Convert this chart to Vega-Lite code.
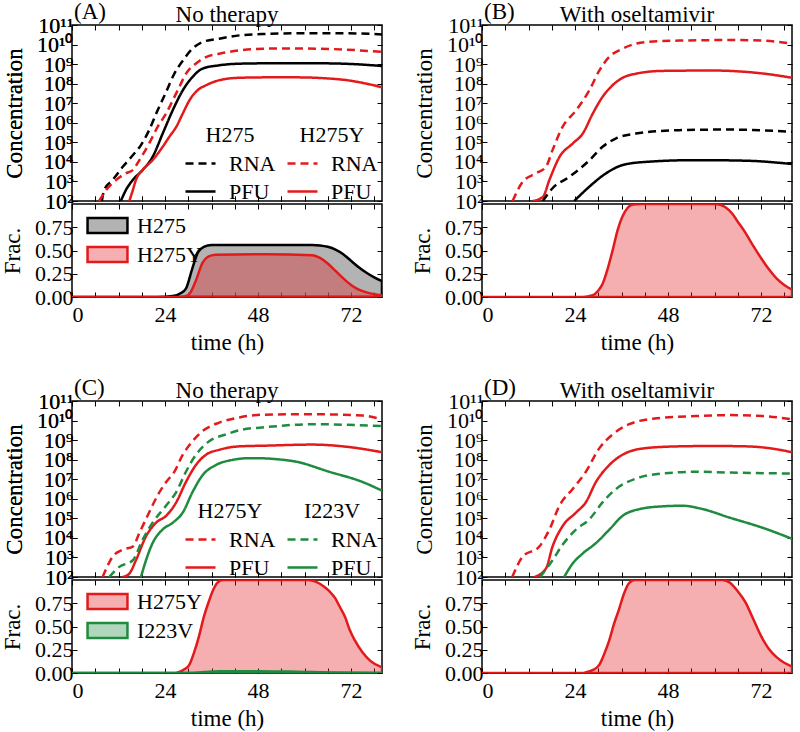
{
"$schema":"https://vega.github.io/schema/vega-lite/v6.json",
"padding":{"left":0,"right":5,"top":0,"bottom":2},
"config":{
 "font":"Liberation Serif",
 "view":{"stroke":"black","strokeWidth":1.5},
 "axis":{"domain":false,"grid":false,"tickColor":"black","tickSize":-5,"tickWidth":1,"labelFont":"Liberation Serif","labelFontSize":22,"labelColor":"black","labelPadding":4,"labelOverlap":false,"titleFont":"Liberation Serif","titleFontSize":23,"titleFontWeight":"normal","titleColor":"black","titlePadding":10},
 "title":{"font":"Liberation Serif","fontSize":23,"fontWeight":"normal","color":"black","offset":-26,"frame":"group"},
 "legend":{"titleFont":"Liberation Serif","labelFont":"Liberation Serif","titleFontSize":22,"labelFontSize":22,"titleFontWeight":"normal","titleColor":"black","labelColor":"black","padding":0,"rowPadding":-2,"labelOffset":12,"symbolStrokeWidth":2.5,"titlePadding":0}
},
"datasets":{
"conc":[
{"p":"A","s":"H275","k":"RNA","t":7.7,"v":1e2},{"p":"A","s":"H275","k":"RNA","t":8.3,"v":3.6e2},{"p":"A","s":"H275","k":"RNA","t":10.5,"v":1.2e3},{"p":"A","s":"H275","k":"RNA","t":13.1,"v":5.6e3},{"p":"A","s":"H275","k":"RNA","t":15.7,"v":2.2e4},{"p":"A","s":"H275","k":"RNA","t":17.8,"v":7.2e4},{"p":"A","s":"H275","k":"RNA","t":19.9,"v":4.2e5},{"p":"A","s":"H275","k":"RNA","t":22.1,"v":4.4e6},{"p":"A","s":"H275","k":"RNA","t":24.3,"v":3.8e7},{"p":"A","s":"H275","k":"RNA","t":26.4,"v":3.2e8},{"p":"A","s":"H275","k":"RNA","t":28.6,"v":1.5e9},{"p":"A","s":"H275","k":"RNA","t":31.1,"v":6.2e9},{"p":"A","s":"H275","k":"RNA","t":33.7,"v":1.35e10},{"p":"A","s":"H275","k":"RNA","t":38,"v":2.0e10},{"p":"A","s":"H275","k":"RNA","t":43.2,"v":2.95e10},{"p":"A","s":"H275","k":"RNA","t":50,"v":3.5e10},{"p":"A","s":"H275","k":"RNA","t":60,"v":3.8e10},{"p":"A","s":"H275","k":"RNA","t":70,"v":3.8e10},{"p":"A","s":"H275","k":"RNA","t":80,"v":3.3e10},
{"p":"A","s":"H275Y","k":"RNA","t":7.0,"v":1e2},{"p":"A","s":"H275Y","k":"RNA","t":8.8,"v":3.6e2},{"p":"A","s":"H275Y","k":"RNA","t":11.4,"v":1.2e3},{"p":"A","s":"H275Y","k":"RNA","t":13.9,"v":2.6e3},{"p":"A","s":"H275Y","k":"RNA","t":15.7,"v":3.8e3},{"p":"A","s":"H275Y","k":"RNA","t":17.4,"v":1.23e4},{"p":"A","s":"H275Y","k":"RNA","t":19.9,"v":8.7e4},{"p":"A","s":"H275Y","k":"RNA","t":22.1,"v":6.2e5},{"p":"A","s":"H275Y","k":"RNA","t":24.3,"v":3.0e6},{"p":"A","s":"H275Y","k":"RNA","t":26.0,"v":1.4e7},{"p":"A","s":"H275Y","k":"RNA","t":27.7,"v":6.8e7},{"p":"A","s":"H275Y","k":"RNA","t":29.4,"v":3.2e8},{"p":"A","s":"H275Y","k":"RNA","t":32.0,"v":1.07e9},{"p":"A","s":"H275Y","k":"RNA","t":34.6,"v":2.3e9},{"p":"A","s":"H275Y","k":"RNA","t":38,"v":3.4e9},{"p":"A","s":"H275Y","k":"RNA","t":43.2,"v":5.0e9},{"p":"A","s":"H275Y","k":"RNA","t":50,"v":6.2e9},{"p":"A","s":"H275Y","k":"RNA","t":60,"v":6.2e9},{"p":"A","s":"H275Y","k":"RNA","t":70,"v":5.6e9},{"p":"A","s":"H275Y","k":"RNA","t":80,"v":4.2e9},
{"p":"A","s":"H275","k":"PFU","t":12.6,"v":1e2},{"p":"A","s":"H275","k":"PFU","t":13.9,"v":3.6e2},{"p":"A","s":"H275","k":"PFU","t":15.7,"v":1.2e3},{"p":"A","s":"H275","k":"PFU","t":18.2,"v":3.8e3},{"p":"A","s":"H275","k":"PFU","t":20.8,"v":1.8e4},{"p":"A","s":"H275","k":"PFU","t":23.4,"v":2.8e5},{"p":"A","s":"H275","k":"PFU","t":26,"v":4.4e6},{"p":"A","s":"H275","k":"PFU","t":28.6,"v":4.6e7},{"p":"A","s":"H275","k":"PFU","t":31.1,"v":2.2e8},{"p":"A","s":"H275","k":"PFU","t":33.7,"v":5.9e8},{"p":"A","s":"H275","k":"PFU","t":38,"v":8.7e8},{"p":"A","s":"H275","k":"PFU","t":43.2,"v":1.05e9},{"p":"A","s":"H275","k":"PFU","t":50,"v":1.1e9},{"p":"A","s":"H275","k":"PFU","t":60,"v":1.12e9},{"p":"A","s":"H275","k":"PFU","t":70,"v":1.05e9},{"p":"A","s":"H275","k":"PFU","t":80,"v":8.0e8},
{"p":"A","s":"H275Y","k":"PFU","t":14.8,"v":1e2},{"p":"A","s":"H275Y","k":"PFU","t":15.7,"v":3.6e2},{"p":"A","s":"H275Y","k":"PFU","t":16.5,"v":1.2e3},{"p":"A","s":"H275Y","k":"PFU","t":18.2,"v":3.8e3},{"p":"A","s":"H275Y","k":"PFU","t":20.8,"v":1.23e4},{"p":"A","s":"H275Y","k":"PFU","t":23.4,"v":5.9e4},{"p":"A","s":"H275Y","k":"PFU","t":25.1,"v":1.9e5},{"p":"A","s":"H275Y","k":"PFU","t":26.9,"v":6.2e5},{"p":"A","s":"H275Y","k":"PFU","t":28.6,"v":3.0e6},{"p":"A","s":"H275Y","k":"PFU","t":30.3,"v":1.4e7},{"p":"A","s":"H275Y","k":"PFU","t":32.4,"v":4.6e7},{"p":"A","s":"H275Y","k":"PFU","t":34.6,"v":8.3e7},{"p":"A","s":"H275Y","k":"PFU","t":38,"v":1.5e8},{"p":"A","s":"H275Y","k":"PFU","t":43.2,"v":2.0e8},{"p":"A","s":"H275Y","k":"PFU","t":50,"v":2.1e8},{"p":"A","s":"H275Y","k":"PFU","t":58,"v":2.1e8},{"p":"A","s":"H275Y","k":"PFU","t":65,"v":1.9e8},{"p":"A","s":"H275Y","k":"PFU","t":71,"v":1.5e8},{"p":"A","s":"H275Y","k":"PFU","t":76,"v":1.0e8},{"p":"A","s":"H275Y","k":"PFU","t":80,"v":6.5e7},
{"p":"B","s":"H275Y","k":"RNA","t":7.9,"v":1e2},{"p":"B","s":"H275Y","k":"RNA","t":10.5,"v":9.5e2},{"p":"B","s":"H275Y","k":"RNA","t":13.9,"v":2.6e3},{"p":"B","s":"H275Y","k":"RNA","t":16.5,"v":5.6e3},{"p":"B","s":"H275Y","k":"RNA","t":18.2,"v":4.0e4},{"p":"B","s":"H275Y","k":"RNA","t":20.8,"v":6.2e5},{"p":"B","s":"H275Y","k":"RNA","t":24.3,"v":4.4e6},{"p":"B","s":"H275Y","k":"RNA","t":27.7,"v":4.6e7},{"p":"B","s":"H275Y","k":"RNA","t":30.3,"v":4.8e8},{"p":"B","s":"H275Y","k":"RNA","t":32.8,"v":2.3e9},{"p":"B","s":"H275Y","k":"RNA","t":36.3,"v":6.2e9},{"p":"B","s":"H275Y","k":"RNA","t":42.3,"v":1.35e10},{"p":"B","s":"H275Y","k":"RNA","t":50.9,"v":1.6e10},{"p":"B","s":"H275Y","k":"RNA","t":63.8,"v":1.7e10},{"p":"B","s":"H275Y","k":"RNA","t":72.4,"v":1.6e10},{"p":"B","s":"H275Y","k":"RNA","t":80,"v":1.1e10},
{"p":"B","s":"H275Y","k":"PFU","t":13.1,"v":1e2},{"p":"B","s":"H275Y","k":"PFU","t":15.7,"v":1.6e2},{"p":"B","s":"H275Y","k":"PFU","t":17.4,"v":1.2e3},{"p":"B","s":"H275Y","k":"PFU","t":20.0,"v":1.8e4},{"p":"B","s":"H275Y","k":"PFU","t":23.4,"v":8.7e4},{"p":"B","s":"H275Y","k":"PFU","t":26.0,"v":2.8e5},{"p":"B","s":"H275Y","k":"PFU","t":28.6,"v":3.0e6},{"p":"B","s":"H275Y","k":"PFU","t":31.1,"v":2.1e7},{"p":"B","s":"H275Y","k":"PFU","t":33.7,"v":8.3e7},{"p":"B","s":"H275Y","k":"PFU","t":38,"v":2.7e8},{"p":"B","s":"H275Y","k":"PFU","t":46.6,"v":4.5e8},{"p":"B","s":"H275Y","k":"PFU","t":59.5,"v":4.7e8},{"p":"B","s":"H275Y","k":"PFU","t":68.1,"v":4.0e8},{"p":"B","s":"H275Y","k":"PFU","t":74.2,"v":3.0e8},{"p":"B","s":"H275Y","k":"PFU","t":80,"v":2.0e8},
{"p":"B","s":"H275","k":"RNA","t":15.7,"v":1e2},{"p":"B","s":"H275","k":"RNA","t":18.2,"v":4.5e2},{"p":"B","s":"H275","k":"RNA","t":22.5,"v":1.7e3},{"p":"B","s":"H275","k":"RNA","t":27.7,"v":1.2e4},{"p":"B","s":"H275","k":"RNA","t":31.1,"v":5.9e4},{"p":"B","s":"H275","k":"RNA","t":34.6,"v":1.6e5},{"p":"B","s":"H275","k":"RNA","t":39.7,"v":2.8e5},{"p":"B","s":"H275","k":"RNA","t":50.9,"v":4.2e5},{"p":"B","s":"H275","k":"RNA","t":63.8,"v":4.5e5},{"p":"B","s":"H275","k":"RNA","t":80,"v":3.5e5},
{"p":"B","s":"H275","k":"PFU","t":23.8,"v":1e2},{"p":"B","s":"H275","k":"PFU","t":27.7,"v":5.4e2},{"p":"B","s":"H275","k":"PFU","t":32.0,"v":2.6e3},{"p":"B","s":"H275","k":"PFU","t":36.3,"v":6.9e3},{"p":"B","s":"H275","k":"PFU","t":42.3,"v":1.0e4},{"p":"B","s":"H275","k":"PFU","t":55.2,"v":1.23e4},{"p":"B","s":"H275","k":"PFU","t":68.1,"v":1.15e4},{"p":"B","s":"H275","k":"PFU","t":80,"v":7.8e3},
{"p":"C","s":"H275Y","k":"RNA","t":7.9,"v":1e2},{"p":"C","s":"H275Y","k":"RNA","t":10.5,"v":1.1e3},{"p":"C","s":"H275Y","k":"RNA","t":13.1,"v":2.5e3},{"p":"C","s":"H275Y","k":"RNA","t":15.7,"v":3.6e3},{"p":"C","s":"H275Y","k":"RNA","t":17.4,"v":1.8e4},{"p":"C","s":"H275Y","k":"RNA","t":19.9,"v":2.0e5},{"p":"C","s":"H275Y","k":"RNA","t":22.1,"v":1.5e6},{"p":"C","s":"H275Y","k":"RNA","t":24.3,"v":7.2e6},{"p":"C","s":"H275Y","k":"RNA","t":26.4,"v":2.4e7},{"p":"C","s":"H275Y","k":"RNA","t":28.6,"v":1.8e8},{"p":"C","s":"H275Y","k":"RNA","t":31.1,"v":8.7e8},{"p":"C","s":"H275Y","k":"RNA","t":33.7,"v":2.9e9},{"p":"C","s":"H275Y","k":"RNA","t":38,"v":7.9e9},{"p":"C","s":"H275Y","k":"RNA","t":43.2,"v":1.45e10},{"p":"C","s":"H275Y","k":"RNA","t":49.2,"v":2.0e10},{"p":"C","s":"H275Y","k":"RNA","t":62.1,"v":2.1e10},{"p":"C","s":"H275Y","k":"RNA","t":75,"v":1.8e10},{"p":"C","s":"H275Y","k":"RNA","t":80,"v":1.15e10},
{"p":"C","s":"I223V","k":"RNA","t":9.6,"v":1e2},{"p":"C","s":"I223V","k":"RNA","t":12.2,"v":3.3e2},{"p":"C","s":"I223V","k":"RNA","t":15.7,"v":7.2e2},{"p":"C","s":"I223V","k":"RNA","t":18.2,"v":7.9e3},{"p":"C","s":"I223V","k":"RNA","t":20.8,"v":6.0e4},{"p":"C","s":"I223V","k":"RNA","t":24.3,"v":4.5e5},{"p":"C","s":"I223V","k":"RNA","t":26.9,"v":2.2e6},{"p":"C","s":"I223V","k":"RNA","t":29.4,"v":2.4e7},{"p":"C","s":"I223V","k":"RNA","t":32.0,"v":1.8e8},{"p":"C","s":"I223V","k":"RNA","t":35.4,"v":8.7e8},{"p":"C","s":"I223V","k":"RNA","t":39.7,"v":1.95e9},{"p":"C","s":"I223V","k":"RNA","t":44.1,"v":3.5e9},{"p":"C","s":"I223V","k":"RNA","t":49,"v":4.4e9},{"p":"C","s":"I223V","k":"RNA","t":62,"v":6.5e9},{"p":"C","s":"I223V","k":"RNA","t":80,"v":5.2e9},
{"p":"C","s":"H275Y","k":"PFU","t":13.1,"v":1e2},{"p":"C","s":"H275Y","k":"PFU","t":14.8,"v":1.5e2},{"p":"C","s":"H275Y","k":"PFU","t":16.5,"v":7.2e2},{"p":"C","s":"H275Y","k":"PFU","t":19.1,"v":1.2e4},{"p":"C","s":"H275Y","k":"PFU","t":21.7,"v":6.0e4},{"p":"C","s":"H275Y","k":"PFU","t":24.3,"v":1.35e5},{"p":"C","s":"H275Y","k":"PFU","t":26.9,"v":6.6e5},{"p":"C","s":"H275Y","k":"PFU","t":29.4,"v":7.2e6},{"p":"C","s":"H275Y","k":"PFU","t":32.0,"v":5.4e7},{"p":"C","s":"H275Y","k":"PFU","t":34.6,"v":1.8e8},{"p":"C","s":"H275Y","k":"PFU","t":38,"v":3.2e8},{"p":"C","s":"H275Y","k":"PFU","t":43.2,"v":4.8e8},{"p":"C","s":"H275Y","k":"PFU","t":50,"v":5.2e8},{"p":"C","s":"H275Y","k":"PFU","t":62,"v":5.9e8},{"p":"C","s":"H275Y","k":"PFU","t":72,"v":4.3e8},{"p":"C","s":"H275Y","k":"PFU","t":80,"v":2.4e8},
{"p":"C","s":"I223V","k":"PFU","t":17.8,"v":1e2},{"p":"C","s":"I223V","k":"PFU","t":19.1,"v":7.2e2},{"p":"C","s":"I223V","k":"PFU","t":20.8,"v":5.4e3},{"p":"C","s":"I223V","k":"PFU","t":23.4,"v":2.7e4},{"p":"C","s":"I223V","k":"PFU","t":26.0,"v":6.0e4},{"p":"C","s":"I223V","k":"PFU","t":28.6,"v":2.0e5},{"p":"C","s":"I223V","k":"PFU","t":31.1,"v":2.2e6},{"p":"C","s":"I223V","k":"PFU","t":33.7,"v":1.6e7},{"p":"C","s":"I223V","k":"PFU","t":37.2,"v":5.4e7},{"p":"C","s":"I223V","k":"PFU","t":41.5,"v":9.8e7},{"p":"C","s":"I223V","k":"PFU","t":44.9,"v":1.17e8},{"p":"C","s":"I223V","k":"PFU","t":49.2,"v":1.17e8},{"p":"C","s":"I223V","k":"PFU","t":53,"v":1.05e8},{"p":"C","s":"I223V","k":"PFU","t":57.8,"v":7.9e7},{"p":"C","s":"I223V","k":"PFU","t":66.4,"v":2.4e7},{"p":"C","s":"I223V","k":"PFU","t":75,"v":7.2e6},{"p":"C","s":"I223V","k":"PFU","t":80,"v":2.6e6},
{"p":"D","s":"H275Y","k":"RNA","t":7.8,"v":1e2},{"p":"D","s":"H275Y","k":"RNA","t":10.5,"v":1.1e3},{"p":"D","s":"H275Y","k":"RNA","t":14.8,"v":3.6e3},{"p":"D","s":"H275Y","k":"RNA","t":17.4,"v":2.7e4},{"p":"D","s":"H275Y","k":"RNA","t":20.0,"v":4.5e5},{"p":"D","s":"H275Y","k":"RNA","t":23.4,"v":3.2e6},{"p":"D","s":"H275Y","k":"RNA","t":26.8,"v":2.4e7},{"p":"D","s":"H275Y","k":"RNA","t":30.3,"v":3.9e8},{"p":"D","s":"H275Y","k":"RNA","t":33.7,"v":1.95e9},{"p":"D","s":"H275Y","k":"RNA","t":38,"v":6.5e9},{"p":"D","s":"H275Y","k":"RNA","t":44.9,"v":1.3e10},{"p":"D","s":"H275Y","k":"RNA","t":55.2,"v":1.7e10},{"p":"D","s":"H275Y","k":"RNA","t":63.8,"v":1.9e10},{"p":"D","s":"H275Y","k":"RNA","t":72.4,"v":1.7e10},{"p":"D","s":"H275Y","k":"RNA","t":80,"v":1.15e10},
{"p":"D","s":"H275Y","k":"PFU","t":13.5,"v":1e2},{"p":"D","s":"H275Y","k":"PFU","t":16.5,"v":2.7e2},{"p":"D","s":"H275Y","k":"PFU","t":18.2,"v":3.6e3},{"p":"D","s":"H275Y","k":"PFU","t":20.8,"v":4.0e4},{"p":"D","s":"H275Y","k":"PFU","t":24.3,"v":2.0e5},{"p":"D","s":"H275Y","k":"PFU","t":26.8,"v":6.6e5},{"p":"D","s":"H275Y","k":"PFU","t":29.4,"v":7.2e6},{"p":"D","s":"H275Y","k":"PFU","t":32.9,"v":5.4e7},{"p":"D","s":"H275Y","k":"PFU","t":36.3,"v":1.8e8},{"p":"D","s":"H275Y","k":"PFU","t":42.3,"v":3.9e8},{"p":"D","s":"H275Y","k":"PFU","t":50.9,"v":4.8e8},{"p":"D","s":"H275Y","k":"PFU","t":59.5,"v":5.0e8},{"p":"D","s":"H275Y","k":"PFU","t":68.1,"v":4.8e8},{"p":"D","s":"H275Y","k":"PFU","t":74,"v":3.9e8},{"p":"D","s":"H275Y","k":"PFU","t":80,"v":2.4e8},
{"p":"D","s":"I223V","k":"RNA","t":15.0,"v":1e2},{"p":"D","s":"I223V","k":"RNA","t":18.2,"v":7.2e2},{"p":"D","s":"I223V","k":"RNA","t":20.8,"v":4.5e3},{"p":"D","s":"I223V","k":"RNA","t":24.3,"v":2.7e4},{"p":"D","s":"I223V","k":"RNA","t":27.7,"v":8.9e4},{"p":"D","s":"I223V","k":"RNA","t":31.1,"v":6.6e5},{"p":"D","s":"I223V","k":"RNA","t":34.6,"v":3.2e6},{"p":"D","s":"I223V","k":"RNA","t":39.7,"v":1.07e7},{"p":"D","s":"I223V","k":"RNA","t":46.6,"v":1.95e7},{"p":"D","s":"I223V","k":"RNA","t":55.2,"v":2.4e7},{"p":"D","s":"I223V","k":"RNA","t":63.8,"v":2.2e7},{"p":"D","s":"I223V","k":"RNA","t":80,"v":1.95e7},
{"p":"D","s":"I223V","k":"PFU","t":21.2,"v":1e2},{"p":"D","s":"I223V","k":"PFU","t":23.4,"v":4.9e2},{"p":"D","s":"I223V","k":"PFU","t":26.0,"v":1.6e3},{"p":"D","s":"I223V","k":"PFU","t":29.4,"v":5.4e3},{"p":"D","s":"I223V","k":"PFU","t":32.9,"v":2.7e4},{"p":"D","s":"I223V","k":"PFU","t":36.3,"v":1.35e5},{"p":"D","s":"I223V","k":"PFU","t":40.6,"v":2.95e5},{"p":"D","s":"I223V","k":"PFU","t":46.6,"v":4.1e5},{"p":"D","s":"I223V","k":"PFU","t":51.8,"v":4.4e5},{"p":"D","s":"I223V","k":"PFU","t":57.0,"v":2.95e5},{"p":"D","s":"I223V","k":"PFU","t":63.8,"v":1.1e5},{"p":"D","s":"I223V","k":"PFU","t":72.4,"v":3.3e4},{"p":"D","s":"I223V","k":"PFU","t":80,"v":9.0e3}
],
"frac":[
{"p":"A","s":"H275","t":0,"f":0},{"p":"A","s":"H275","t":22,"f":0},{"p":"A","s":"H275","t":26,"f":0.01},{"p":"A","s":"H275","t":28,"f":0.04},{"p":"A","s":"H275","t":29.4,"f":0.09},{"p":"A","s":"H275","t":31,"f":0.3},{"p":"A","s":"H275","t":32.5,"f":0.48},{"p":"A","s":"H275","t":34,"f":0.54},{"p":"A","s":"H275","t":36,"f":0.56},{"p":"A","s":"H275","t":50,"f":0.56},{"p":"A","s":"H275","t":62,"f":0.56},{"p":"A","s":"H275","t":64,"f":0.555},{"p":"A","s":"H275","t":66,"f":0.54},{"p":"A","s":"H275","t":68,"f":0.51},{"p":"A","s":"H275","t":70,"f":0.46},{"p":"A","s":"H275","t":72,"f":0.39},{"p":"A","s":"H275","t":74,"f":0.32},{"p":"A","s":"H275","t":76,"f":0.26},{"p":"A","s":"H275","t":78,"f":0.21},{"p":"A","s":"H275","t":80,"f":0.17},
{"p":"A","s":"H275Y","t":0,"f":0},{"p":"A","s":"H275Y","t":28,"f":0},{"p":"A","s":"H275Y","t":30,"f":0.02},{"p":"A","s":"H275Y","t":32,"f":0.18},{"p":"A","s":"H275Y","t":33.7,"f":0.37},{"p":"A","s":"H275Y","t":35,"f":0.43},{"p":"A","s":"H275Y","t":37,"f":0.455},{"p":"A","s":"H275Y","t":50,"f":0.46},{"p":"A","s":"H275Y","t":62,"f":0.45},{"p":"A","s":"H275Y","t":64,"f":0.42},{"p":"A","s":"H275Y","t":66,"f":0.36},{"p":"A","s":"H275Y","t":68,"f":0.28},{"p":"A","s":"H275Y","t":70,"f":0.2},{"p":"A","s":"H275Y","t":72,"f":0.13},{"p":"A","s":"H275Y","t":74,"f":0.08},{"p":"A","s":"H275Y","t":76,"f":0.05},{"p":"A","s":"H275Y","t":78,"f":0.03},{"p":"A","s":"H275Y","t":80,"f":0.02},
{"p":"B","s":"H275Y","t":0,"f":0},{"p":"B","s":"H275Y","t":26,"f":0},{"p":"B","s":"H275Y","t":28.6,"f":0.02},{"p":"B","s":"H275Y","t":30,"f":0.07},{"p":"B","s":"H275Y","t":31.1,"f":0.14},{"p":"B","s":"H275Y","t":32.4,"f":0.3},{"p":"B","s":"H275Y","t":33.7,"f":0.5},{"p":"B","s":"H275Y","t":35,"f":0.72},{"p":"B","s":"H275Y","t":36.3,"f":0.87},{"p":"B","s":"H275Y","t":37.6,"f":0.96},{"p":"B","s":"H275Y","t":39,"f":0.995},{"p":"B","s":"H275Y","t":41,"f":1.0},{"p":"B","s":"H275Y","t":60,"f":1.0},{"p":"B","s":"H275Y","t":61.5,"f":0.99},{"p":"B","s":"H275Y","t":63,"f":0.96},{"p":"B","s":"H275Y","t":64.5,"f":0.9},{"p":"B","s":"H275Y","t":66,"f":0.81},{"p":"B","s":"H275Y","t":68,"f":0.69},{"p":"B","s":"H275Y","t":70,"f":0.55},{"p":"B","s":"H275Y","t":72,"f":0.42},{"p":"B","s":"H275Y","t":74,"f":0.3},{"p":"B","s":"H275Y","t":76,"f":0.2},{"p":"B","s":"H275Y","t":78,"f":0.13},{"p":"B","s":"H275Y","t":80,"f":0.08},
{"p":"C","s":"H275Y","t":0,"f":0},{"p":"C","s":"H275Y","t":26,"f":0},{"p":"C","s":"H275Y","t":27.5,"f":0.01},{"p":"C","s":"H275Y","t":29,"f":0.04},{"p":"C","s":"H275Y","t":30.3,"f":0.09},{"p":"C","s":"H275Y","t":31.5,"f":0.22},{"p":"C","s":"H275Y","t":32.8,"f":0.4},{"p":"C","s":"H275Y","t":34,"f":0.6},{"p":"C","s":"H275Y","t":35.4,"f":0.78},{"p":"C","s":"H275Y","t":36.5,"f":0.9},{"p":"C","s":"H275Y","t":37.5,"f":0.97},{"p":"C","s":"H275Y","t":39,"f":1.0},{"p":"C","s":"H275Y","t":61,"f":1.0},{"p":"C","s":"H275Y","t":63,"f":0.98},{"p":"C","s":"H275Y","t":65,"f":0.93},{"p":"C","s":"H275Y","t":66.4,"f":0.88},{"p":"C","s":"H275Y","t":68,"f":0.8},{"p":"C","s":"H275Y","t":69,"f":0.72},{"p":"C","s":"H275Y","t":70.5,"f":0.6},{"p":"C","s":"H275Y","t":71.6,"f":0.47},{"p":"C","s":"H275Y","t":73,"f":0.35},{"p":"C","s":"H275Y","t":75,"f":0.22},{"p":"C","s":"H275Y","t":77,"f":0.13},{"p":"C","s":"H275Y","t":80,"f":0.06},
{"p":"C","s":"I223V","t":0,"f":0},{"p":"C","s":"I223V","t":30,"f":0},{"p":"C","s":"I223V","t":34,"f":0.01},{"p":"C","s":"I223V","t":38,"f":0.02},{"p":"C","s":"I223V","t":48,"f":0.02},{"p":"C","s":"I223V","t":56,"f":0.015},{"p":"C","s":"I223V","t":62,"f":0.01},{"p":"C","s":"I223V","t":68,"f":0.005},{"p":"C","s":"I223V","t":80,"f":0},
{"p":"D","s":"H275Y","t":0,"f":0},{"p":"D","s":"H275Y","t":26,"f":0},{"p":"D","s":"H275Y","t":27,"f":0.01},{"p":"D","s":"H275Y","t":28.5,"f":0.03},{"p":"D","s":"H275Y","t":30.3,"f":0.09},{"p":"D","s":"H275Y","t":31.5,"f":0.2},{"p":"D","s":"H275Y","t":32.9,"f":0.36},{"p":"D","s":"H275Y","t":34,"f":0.52},{"p":"D","s":"H275Y","t":35.4,"f":0.69},{"p":"D","s":"H275Y","t":36.6,"f":0.85},{"p":"D","s":"H275Y","t":38,"f":0.97},{"p":"D","s":"H275Y","t":39.5,"f":1.0},{"p":"D","s":"H275Y","t":62,"f":1.0},{"p":"D","s":"H275Y","t":64,"f":0.97},{"p":"D","s":"H275Y","t":66,"f":0.88},{"p":"D","s":"H275Y","t":68,"f":0.76},{"p":"D","s":"H275Y","t":70,"f":0.58},{"p":"D","s":"H275Y","t":72,"f":0.4},{"p":"D","s":"H275Y","t":74,"f":0.26},{"p":"D","s":"H275Y","t":76,"f":0.17},{"p":"D","s":"H275Y","t":78,"f":0.11},{"p":"D","s":"H275Y","t":80,"f":0.07}
]
},
"bounds":"flush",
"columns":2,
"spacing":{"row":3,"column":100},
"resolve":{"scale":{"x":"independent","y":"independent","color":"independent","fill":"independent","stroke":"independent","strokeDash":"independent"},"legend":{"color":"independent","fill":"independent","stroke":"independent","strokeDash":"independent"}},
"concat":[
  {"width":310,"height":176,"title":{"text":"No therapy"},
   "layer":[
    {"data":{"name":"conc"},"transform":[{"filter":"datum.p==='A' && datum.s==='H275'"}],
     "mark":{"type":"line","strokeWidth":2.5,"interpolate":"monotone","clip":true},
     "encoding":{
      "x":{"field":"t","type":"quantitative","scale":{"domain":[0,80],"nice":false},"axis":{"orient":"bottom","values":[0,6,12,18,24,30,36,42,48,54,60,66,72,78],"labels":false,"title":null}},
      "y":{"field":"v","type":"quantitative","scale":{"type":"log","domain":[100,1e11],"nice":false},"axis":{"orient":"left","values":[1e2,1e3,1e4,1e5,1e6,1e7,1e8,1e9,1e10,1e11],"labelExpr":"'10' + ['⁰','¹','²','³','⁴','⁵','⁶','⁷','⁸','⁹','¹⁰','¹¹'][round(log(datum.value)/LN10)]","title":"Concentration"}},
      "color":{"field":"k","type":"nominal","scale":{"domain":["RNA","PFU"],"range":["#000000","#000000"]},"legend":{"title":"H275","orient":"none","legendX":112,"legendY":100,"titleAnchor":"middle","symbolType":"stroke","symbolSize":900}},
      "strokeDash":{"field":"k","type":"nominal","scale":{"domain":["RNA","PFU"],"range":[[8,5],[1,0]]},"legend":{"title":"H275","orient":"none","legendX":112,"legendY":100,"titleAnchor":"middle","symbolType":"stroke","symbolSize":900}}
     }},
    {"data":{"name":"conc"},"transform":[{"filter":"datum.p==='A' && datum.s==='H275Y'"}],
     "mark":{"type":"line","strokeWidth":2.5,"interpolate":"monotone","clip":true},
     "encoding":{
      "x":{"field":"t","type":"quantitative","scale":{"domain":[0,80],"nice":false},"axis":{"orient":"bottom","values":[0,6,12,18,24,30,36,42,48,54,60,66,72,78],"labels":false,"title":null}},
      "y":{"field":"v","type":"quantitative","scale":{"type":"log","domain":[100,1e11],"nice":false},"axis":{"orient":"left","values":[1e2,1e3,1e4,1e5,1e6,1e7,1e8,1e9,1e10,1e11],"labelExpr":"'10' + ['⁰','¹','²','³','⁴','⁵','⁶','⁷','⁸','⁹','¹⁰','¹¹'][round(log(datum.value)/LN10)]","title":"Concentration"}},
      "color":{"field":"k","type":"nominal","scale":{"domain":["RNA","PFU"],"range":["#e31a1c","#e31a1c"]},"legend":{"title":"H275Y","orient":"none","legendX":214,"legendY":100,"titleAnchor":"middle","symbolType":"stroke","symbolSize":900}},
      "strokeDash":{"field":"k","type":"nominal","scale":{"domain":["RNA","PFU"],"range":[[8,5],[1,0]]},"legend":{"title":"H275Y","orient":"none","legendX":214,"legendY":100,"titleAnchor":"middle","symbolType":"stroke","symbolSize":900}}
     }},
    {"data":{"values":[{"lab":"(A)"}]},
     "mark":{"type":"text","align":"left","baseline":"alphabetic","dx":2,"dy":-6,"fontSize":23,"font":"Liberation Serif"},
     "encoding":{
      "x":{"datum":0,"type":"quantitative","axis":{"orient":"top","values":[0,6,12,18,24,30,36,42,48,54,60,66,72,78],"labels":false,"title":null}},
      "y":{"datum":1e11,"type":"quantitative","axis":{"orient":"right","values":[1e2,1e3,1e4,1e5,1e6,1e7,1e8,1e9,1e10,1e11],"labels":false,"title":null}},
      "text":{"field":"lab"}}}
   ],
   "resolve":{"scale":{"color":"independent","strokeDash":"independent"},"legend":{"color":"independent","strokeDash":"independent"}}
  },
  {"width":310,"height":176,"title":{"text":"With oseltamivir"},
   "layer":[
    {"data":{"name":"conc"},"transform":[{"filter":"datum.p==='B'"}],
     "mark":{"type":"line","strokeWidth":2.5,"interpolate":"monotone","clip":true},
     "encoding":{
      "x":{"field":"t","type":"quantitative","scale":{"domain":[0,80],"nice":false},"axis":{"orient":"bottom","values":[0,6,12,18,24,30,36,42,48,54,60,66,72,78],"labels":false,"title":null}},
      "y":{"field":"v","type":"quantitative","scale":{"type":"log","domain":[100,1e11],"nice":false},"axis":{"orient":"left","values":[1e2,1e3,1e4,1e5,1e6,1e7,1e8,1e9,1e10,1e11],"labelExpr":"'10' + ['⁰','¹','²','³','⁴','⁵','⁶','⁷','⁸','⁹','¹⁰','¹¹'][round(log(datum.value)/LN10)]","title":"Concentration"}},
      "color":{"field":"s","type":"nominal","scale":{"domain":["H275","H275Y"],"range":["#000000","#e31a1c"]},"legend":null},
      "strokeDash":{"field":"k","type":"nominal","scale":{"domain":["RNA","PFU"],"range":[[8,5],[1,0]]},"legend":null}
     }},
    {"data":{"values":[{"lab":"(B)"}]},
     "mark":{"type":"text","align":"left","baseline":"alphabetic","dx":2,"dy":-6,"fontSize":23,"font":"Liberation Serif"},
     "encoding":{
      "x":{"datum":0,"type":"quantitative","axis":{"orient":"top","values":[0,6,12,18,24,30,36,42,48,54,60,66,72,78],"labels":false,"title":null}},
      "y":{"datum":1e11,"type":"quantitative","axis":{"orient":"right","values":[1e2,1e3,1e4,1e5,1e6,1e7,1e8,1e9,1e10,1e11],"labels":false,"title":null}},
      "text":{"field":"lab"}}}
   ]
  },
  {"width":310,"height":93,
   "layer":[
    {"data":{"name":"frac"},"transform":[{"filter":"datum.p==='A'"}],
     "mark":{"type":"area","strokeWidth":2.5,"interpolate":"monotone","clip":true},
     "encoding":{
      "x":{"field":"t","type":"quantitative","scale":{"domain":[0,80],"nice":false},"axis":{"orient":"bottom","values":[0,6,12,18,24,30,36,42,48,54,60,66,72,78],"labelExpr":"datum.value % 24 === 0 ? datum.label : ''","title":"time (h)","labelPadding":12,"titlePadding":6}},
      "y":{"field":"f","type":"quantitative","stack":null,"scale":{"domain":[0,1],"nice":false},"axis":{"orient":"left","values":[0,0.25,0.5,0.75],"format":".2f","title":"Frac."}},
      "fill":{"field":"s","type":"nominal","scale":{"domain":["H275","H275Y"],"range":["rgba(128,128,128,0.6)","rgba(227,26,28,0.35)"]},"legend":{"title":null,"orient":"none","legendX":19,"legendY":5,"symbolType":"M-1.33,-0.5H1.33V0.5H-1.33Z","symbolSize":900,"labelOffset":13}},
      "stroke":{"field":"s","type":"nominal","scale":{"domain":["H275","H275Y"],"range":["#000000","#e31a1c"]},"legend":{"title":null,"orient":"none","legendX":19,"legendY":5,"symbolType":"M-1.33,-0.5H1.33V0.5H-1.33Z","symbolSize":900,"labelOffset":13}}
     }},
    {"data":{"values":[{}]},"mark":{"type":"text","text":""},
     "encoding":{
      "x":{"datum":0,"type":"quantitative","axis":{"orient":"top","values":[0,6,12,18,24,30,36,42,48,54,60,66,72,78],"labels":false,"title":null}},
      "y":{"datum":0,"type":"quantitative","axis":{"orient":"right","values":[0,0.25,0.5,0.75],"labels":false,"title":null}}}}
   ]
  },
  {"width":310,"height":93,
   "layer":[
    {"data":{"name":"frac"},"transform":[{"filter":"datum.p==='B'"}],
     "mark":{"type":"area","strokeWidth":2.5,"interpolate":"monotone","clip":true},
     "encoding":{
      "x":{"field":"t","type":"quantitative","scale":{"domain":[0,80],"nice":false},"axis":{"orient":"bottom","values":[0,6,12,18,24,30,36,42,48,54,60,66,72,78],"labelExpr":"datum.value % 24 === 0 ? datum.label : ''","title":"time (h)","labelPadding":12,"titlePadding":6}},
      "y":{"field":"f","type":"quantitative","stack":null,"scale":{"domain":[0,1],"nice":false},"axis":{"orient":"left","values":[0,0.25,0.5,0.75],"format":".2f","title":"Frac."}},
      "fill":{"field":"s","type":"nominal","scale":{"domain":["H275","H275Y"],"range":["rgba(128,128,128,0.6)","rgba(227,26,28,0.35)"]},"legend":null},
      "stroke":{"field":"s","type":"nominal","scale":{"domain":["H275","H275Y"],"range":["#000000","#e31a1c"]},"legend":null}
     }},
    {"data":{"values":[{}]},"mark":{"type":"text","text":""},
     "encoding":{
      "x":{"datum":0,"type":"quantitative","axis":{"orient":"top","values":[0,6,12,18,24,30,36,42,48,54,60,66,72,78],"labels":false,"title":null}},
      "y":{"datum":0,"type":"quantitative","axis":{"orient":"right","values":[0,0.25,0.5,0.75],"labels":false,"title":null}}}}
   ]
  },
  {"width":310,"height":98,"view":{"stroke":null},"data":{"values":[]},"mark":"text","encoding":{}},
  {"width":310,"height":98,"view":{"stroke":null},"data":{"values":[]},"mark":"text","encoding":{}},
  {"width":310,"height":176,"title":{"text":"No therapy"},
   "layer":[
    {"data":{"name":"conc"},"transform":[{"filter":"datum.p==='C' && datum.s==='H275Y'"}],
     "mark":{"type":"line","strokeWidth":2.5,"interpolate":"monotone","clip":true},
     "encoding":{
      "x":{"field":"t","type":"quantitative","scale":{"domain":[0,80],"nice":false},"axis":{"orient":"bottom","values":[0,6,12,18,24,30,36,42,48,54,60,66,72,78],"labels":false,"title":null}},
      "y":{"field":"v","type":"quantitative","scale":{"type":"log","domain":[100,1e11],"nice":false},"axis":{"orient":"left","values":[1e2,1e3,1e4,1e5,1e6,1e7,1e8,1e9,1e10,1e11],"labelExpr":"'10' + ['⁰','¹','²','³','⁴','⁵','⁶','⁷','⁸','⁹','¹⁰','¹¹'][round(log(datum.value)/LN10)]","title":"Concentration"}},
      "color":{"field":"k","type":"nominal","scale":{"domain":["RNA","PFU"],"range":["#e31a1c","#e31a1c"]},"legend":{"title":"H275Y","orient":"none","legendX":112,"legendY":100,"titleAnchor":"middle","symbolType":"stroke","symbolSize":900}},
      "strokeDash":{"field":"k","type":"nominal","scale":{"domain":["RNA","PFU"],"range":[[8,5],[1,0]]},"legend":{"title":"H275Y","orient":"none","legendX":112,"legendY":100,"titleAnchor":"middle","symbolType":"stroke","symbolSize":900}}
     }},
    {"data":{"name":"conc"},"transform":[{"filter":"datum.p==='C' && datum.s==='I223V'"}],
     "mark":{"type":"line","strokeWidth":2.5,"interpolate":"monotone","clip":true},
     "encoding":{
      "x":{"field":"t","type":"quantitative","scale":{"domain":[0,80],"nice":false},"axis":{"orient":"bottom","values":[0,6,12,18,24,30,36,42,48,54,60,66,72,78],"labels":false,"title":null}},
      "y":{"field":"v","type":"quantitative","scale":{"type":"log","domain":[100,1e11],"nice":false},"axis":{"orient":"left","values":[1e2,1e3,1e4,1e5,1e6,1e7,1e8,1e9,1e10,1e11],"labelExpr":"'10' + ['⁰','¹','²','³','⁴','⁵','⁶','⁷','⁸','⁹','¹⁰','¹¹'][round(log(datum.value)/LN10)]","title":"Concentration"}},
      "color":{"field":"k","type":"nominal","scale":{"domain":["RNA","PFU"],"range":["#1e8b3e","#1e8b3e"]},"legend":{"title":"I223V","orient":"none","legendX":214,"legendY":100,"titleAnchor":"middle","symbolType":"stroke","symbolSize":900}},
      "strokeDash":{"field":"k","type":"nominal","scale":{"domain":["RNA","PFU"],"range":[[8,5],[1,0]]},"legend":{"title":"I223V","orient":"none","legendX":214,"legendY":100,"titleAnchor":"middle","symbolType":"stroke","symbolSize":900}}
     }},
    {"data":{"values":[{"lab":"(C)"}]},
     "mark":{"type":"text","align":"left","baseline":"alphabetic","dx":2,"dy":-6,"fontSize":23,"font":"Liberation Serif"},
     "encoding":{
      "x":{"datum":0,"type":"quantitative","axis":{"orient":"top","values":[0,6,12,18,24,30,36,42,48,54,60,66,72,78],"labels":false,"title":null}},
      "y":{"datum":1e11,"type":"quantitative","axis":{"orient":"right","values":[1e2,1e3,1e4,1e5,1e6,1e7,1e8,1e9,1e10,1e11],"labels":false,"title":null}},
      "text":{"field":"lab"}}}
   ],
   "resolve":{"scale":{"color":"independent","strokeDash":"independent"},"legend":{"color":"independent","strokeDash":"independent"}}
  },
  {"width":310,"height":176,"title":{"text":"With oseltamivir"},
   "layer":[
    {"data":{"name":"conc"},"transform":[{"filter":"datum.p==='D'"}],
     "mark":{"type":"line","strokeWidth":2.5,"interpolate":"monotone","clip":true},
     "encoding":{
      "x":{"field":"t","type":"quantitative","scale":{"domain":[0,80],"nice":false},"axis":{"orient":"bottom","values":[0,6,12,18,24,30,36,42,48,54,60,66,72,78],"labels":false,"title":null}},
      "y":{"field":"v","type":"quantitative","scale":{"type":"log","domain":[100,1e11],"nice":false},"axis":{"orient":"left","values":[1e2,1e3,1e4,1e5,1e6,1e7,1e8,1e9,1e10,1e11],"labelExpr":"'10' + ['⁰','¹','²','³','⁴','⁵','⁶','⁷','⁸','⁹','¹⁰','¹¹'][round(log(datum.value)/LN10)]","title":"Concentration"}},
      "color":{"field":"s","type":"nominal","scale":{"domain":["H275Y","I223V"],"range":["#e31a1c","#1e8b3e"]},"legend":null},
      "strokeDash":{"field":"k","type":"nominal","scale":{"domain":["RNA","PFU"],"range":[[8,5],[1,0]]},"legend":null}
     }},
    {"data":{"values":[{"lab":"(D)"}]},
     "mark":{"type":"text","align":"left","baseline":"alphabetic","dx":2,"dy":-6,"fontSize":23,"font":"Liberation Serif"},
     "encoding":{
      "x":{"datum":0,"type":"quantitative","axis":{"orient":"top","values":[0,6,12,18,24,30,36,42,48,54,60,66,72,78],"labels":false,"title":null}},
      "y":{"datum":1e11,"type":"quantitative","axis":{"orient":"right","values":[1e2,1e3,1e4,1e5,1e6,1e7,1e8,1e9,1e10,1e11],"labels":false,"title":null}},
      "text":{"field":"lab"}}}
   ]
  },
  {"width":310,"height":93,
   "layer":[
    {"data":{"name":"frac"},"transform":[{"filter":"datum.p==='C'"}],
     "mark":{"type":"area","strokeWidth":2.5,"interpolate":"monotone","clip":true},
     "encoding":{
      "x":{"field":"t","type":"quantitative","scale":{"domain":[0,80],"nice":false},"axis":{"orient":"bottom","values":[0,6,12,18,24,30,36,42,48,54,60,66,72,78],"labelExpr":"datum.value % 24 === 0 ? datum.label : ''","title":"time (h)","labelPadding":12,"titlePadding":6}},
      "y":{"field":"f","type":"quantitative","stack":null,"scale":{"domain":[0,1],"nice":false},"axis":{"orient":"left","values":[0,0.25,0.5,0.75],"format":".2f","title":"Frac."}},
      "fill":{"field":"s","type":"nominal","scale":{"domain":["H275Y","I223V"],"range":["rgba(227,26,28,0.35)","rgba(30,139,62,0.35)"]},"legend":{"title":null,"orient":"none","legendX":19,"legendY":5,"symbolType":"M-1.33,-0.5H1.33V0.5H-1.33Z","symbolSize":900,"labelOffset":13}},
      "stroke":{"field":"s","type":"nominal","scale":{"domain":["H275Y","I223V"],"range":["#e31a1c","#1e8b3e"]},"legend":{"title":null,"orient":"none","legendX":19,"legendY":5,"symbolType":"M-1.33,-0.5H1.33V0.5H-1.33Z","symbolSize":900,"labelOffset":13}}
     }},
    {"data":{"values":[{}]},"mark":{"type":"text","text":""},
     "encoding":{
      "x":{"datum":0,"type":"quantitative","axis":{"orient":"top","values":[0,6,12,18,24,30,36,42,48,54,60,66,72,78],"labels":false,"title":null}},
      "y":{"datum":0,"type":"quantitative","axis":{"orient":"right","values":[0,0.25,0.5,0.75],"labels":false,"title":null}}}}
   ]
  },
  {"width":310,"height":93,
   "layer":[
    {"data":{"name":"frac"},"transform":[{"filter":"datum.p==='D'"}],
     "mark":{"type":"area","strokeWidth":2.5,"interpolate":"monotone","clip":true},
     "encoding":{
      "x":{"field":"t","type":"quantitative","scale":{"domain":[0,80],"nice":false},"axis":{"orient":"bottom","values":[0,6,12,18,24,30,36,42,48,54,60,66,72,78],"labelExpr":"datum.value % 24 === 0 ? datum.label : ''","title":"time (h)","labelPadding":12,"titlePadding":6}},
      "y":{"field":"f","type":"quantitative","stack":null,"scale":{"domain":[0,1],"nice":false},"axis":{"orient":"left","values":[0,0.25,0.5,0.75],"format":".2f","title":"Frac."}},
      "fill":{"field":"s","type":"nominal","scale":{"domain":["H275Y","I223V"],"range":["rgba(227,26,28,0.35)","rgba(30,139,62,0.35)"]},"legend":null},
      "stroke":{"field":"s","type":"nominal","scale":{"domain":["H275Y","I223V"],"range":["#e31a1c","#1e8b3e"]},"legend":null}
     }},
    {"data":{"values":[{}]},"mark":{"type":"text","text":""},
     "encoding":{
      "x":{"datum":0,"type":"quantitative","axis":{"orient":"top","values":[0,6,12,18,24,30,36,42,48,54,60,66,72,78],"labels":false,"title":null}},
      "y":{"datum":0,"type":"quantitative","axis":{"orient":"right","values":[0,0.25,0.5,0.75],"labels":false,"title":null}}}}
   ]
  }
]
}
